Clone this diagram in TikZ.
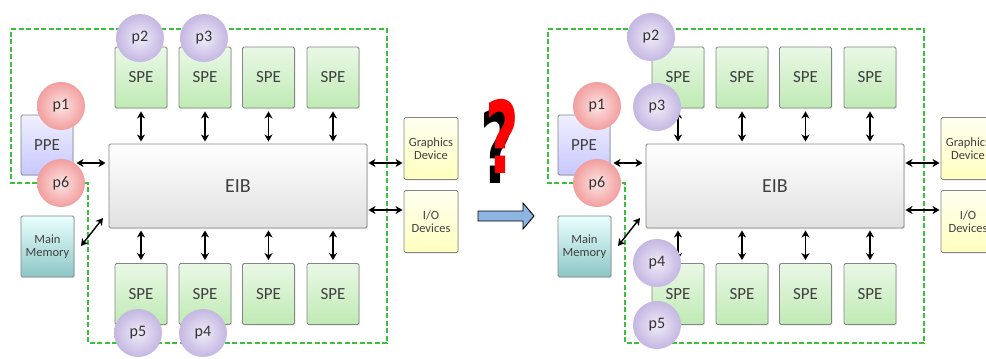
\documentclass[tikz,border=0pt]{standalone}
\usepackage{fontspec}
\setmainfont{Carlito}
\newfontfamily\quizfont{DejaVu Sans}
\usetikzlibrary{arrows.meta,positioning,shadows}
\definecolor{ringgreen}{HTML}{3CBF3C}
\definecolor{boxline}{HTML}{858585}
\definecolor{spetop}{HTML}{EAF8E6}
\definecolor{spebot}{HTML}{BFEAB4}
\definecolor{lilacin}{HTML}{F0ECF8}
\definecolor{lilacout}{HTML}{C4B7E2}
\definecolor{pinkin}{HTML}{FDE4E4}
\definecolor{pinkout}{HTML}{F29E9E}
\definecolor{goblue}{HTML}{8DB4E2}
\tikzset{
	x=1pt,
	y=-1pt,
	>={Stealth[length=7pt,width=8pt,inset=2pt]},
	box/.style={
		draw=boxline,
		line width=0.9pt,
		rounded corners=1.5pt,
		inner sep=0pt,
		text=black!75,
		align=center,
		drop shadow={opacity=0.18, shadow xshift=1.2pt, shadow yshift=-1.2pt}
	},
	ball/.style={
		circle,
		minimum size=48pt,
		inner sep=0pt,
		text=black!80,
		font=\fontsize{16}{16}\selectfont
	}
}

\begin{document}
\begin{tikzpicture}
  \tikzset{
    spe/.style={box, minimum width=52pt, minimum height=61pt,
          top color=spetop, bottom color=spebot,
          font=\fontsize{17}{17}\selectfont},
    bus/.style={box, minimum width=258pt, minimum height=84pt,
          top color=white, bottom color=black!12,
          font=\fontsize{20}{20}\selectfont},
    ppe/.style={box, minimum width=52pt, minimum height=60pt,
          top color=blue!6, bottom color=blue!22,
          font=\fontsize{17}{17}\selectfont},
    mem/.style={box, minimum width=53pt, minimum height=61pt,
          top color=cyan!8, bottom color=teal!45,
          font=\fontsize{12.5}{13}\selectfont},
    dev/.style={box, minimum width=54pt, minimum height=62pt,
          top color=yellow!6, bottom color=yellow!25,
          font=\fontsize{12.5}{13}\selectfont},
    link/.style={<->, line width=1.4pt, shorten <=3pt, shorten >=3pt},
    ring/.style={ringgreen, line width=1.4pt, dash pattern=on 5pt off 2.5pt},
    red ball/.style={ball, inner color=pinkin, outer color=pinkout},
    lilac ball/.style={ball, inner color=lilacin, outer color=lilacout},
    quiz/.style={inner sep=0pt, font=\quizfont\fontsize{100}{100}\bfseries}
  }
  \useasboundingbox (0,0) rectangle (986,359);

  \foreach \s/\dx in {L/0,R/537}{
    \draw[ring] (\dx+11,29) -| (\dx+387,343) -| (\dx+88,183) -| cycle;

    \node[bus] (eib\s) at (\dx+238,186) {EIB};
    \node[ppe] (ppe\s) at (\dx+47,145) {PPE};
    \node[mem] (mem\s) at (\dx+47.5,246.5) {Main\\Memory};
    \node[dev] (gfx\s) at (\dx+431,148.5) {Graphics\\Device};
    \node[dev] (io\s) at (\dx+431,221.5) {I/O\\Devices};

    \foreach \i/\cx in {1/141,2/205,3/268.5,4/333}{
      \node[spe] (speT\i\s) at (\dx+\cx,77.5) {SPE};
      \node[spe] (speB\i\s) at (\dx+\cx,294) {SPE};
      \draw[link,shorten >=2pt] (speT\i\s) -- (speT\i\s |- eib\s.north);
      \draw[link,shorten >=2pt] (speB\i\s) -- (speB\i\s |- eib\s.south);
    }

    \coordinate (hiA\s) at (\dx+238,163);
    \coordinate (hiB\s) at (\dx+238,210);
    \coordinate (memA\s) at (\dx+81,246);
    \coordinate (memB\s) at (\dx+103,218);
    \draw[link] (ppe\s.east |- hiA\s) -- (eib\s.west |- hiA\s);
    \draw[link,shorten <=1pt,shorten >=1pt] (eib\s.east |- hiA\s) -- (gfx\s.west |- hiA\s);
    \draw[link,shorten <=1pt,shorten >=1pt] (eib\s.east |- hiB\s) -- (io\s.west |- hiB\s);
    \draw[link,shorten <=0pt,shorten >=0pt] (memA\s) -- (memB\s);
  }

  % before
  \node[red ball] (p1L) at (61,106) {p1};
  \node[red ball] (p6L) at (61,183) {p6};
  \node[lilac ball] (p2L) at (140,38) {p2};
  \node[lilac ball] (p3L) at (204,38) {p3};
  \node[lilac ball] (p5L) at (138,333) {p5};
  \node[lilac ball] (p4L) at (203,333) {p4};

  % after
  \node[red ball] (p1R) at (597,106) {p1};
  \node[red ball] (p6R) at (597,183) {p6};
  \node[lilac ball] (p2R) at (651,37) {p2};
  \node[lilac ball] (p3R) at (657,107) {p3};
  \node[lilac ball] (p4R) at (657,263) {p4};
  \node[lilac ball] (p5R) at (657,325) {p5};

  \node[quiz, text=black] (qshade) at (497,146) {\scalebox{0.58}[1]{?}};
  \node[quiz, text=red] (qmark) at (502,136) {\scalebox{0.58}[1]{?}};
  \draw[line width=0.9pt, fill=goblue] (478,211) -- (523,211) -- (523,203)
        -- (534,216) -- (523,229) -- (523,221) -- (478,221) -- cycle;
\end{tikzpicture}
\end{document}
